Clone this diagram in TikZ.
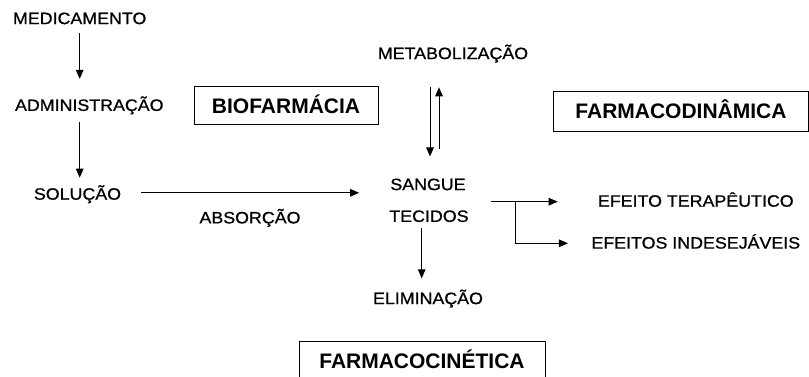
\documentclass[tikz,border=0pt]{standalone}
\usepackage{fontspec}
\setmainfont{Liberation Sans}
\newfontfamily\lab[FakeStretch=1.08,FakeBold=0.8]{Liberation Sans}
\usetikzlibrary{arrows.meta}
\begin{document}
\begin{tikzpicture}[x=1pt,y=-1pt,
  lbl/.style={inner sep=0pt, text height=11.8pt, text depth=0pt, font=\lab\fontsize{16.5}{19}\selectfont},
  titlebox/.style={draw, line width=1pt, inner sep=0pt, text height=15pt, text depth=0pt, font=\fontsize{21}{25}\selectfont\bfseries},
  arr/.style={line width=1pt, -{Triangle[length=9pt,width=7.5pt]}},
  ]
\useasboundingbox (0,0) rectangle (809,377);
% labels
\node[lbl] (med) at (79.7,18.2) {MEDICAMENTO};
\node[lbl] (adm) at (89.3,105) {ADMINISTRAÇÃO};
\node[lbl] (sol) at (77.5,193.8) {SOLUÇÃO};
\node[lbl] (abs) at (250,217.5) {ABSORÇÃO};
\node[lbl] (met) at (453,53.2) {METABOLIZAÇÃO};
\node[lbl] (san) at (428,184.2) {SANGUE};
\node[lbl] (tec) at (429,216) {TECIDOS};
\node[lbl] (eli) at (428,298.2) {ELIMINAÇÃO};
\node[lbl] (eft) at (695.8,200.8) {EFEITO TERAPÊUTICO};
\node[lbl] (efi) at (695.8,242.7) {EFEITOS INDESEJÁVEIS};
% boxes
\node[titlebox, minimum width=184pt, minimum height=38pt] (bio) at (286,106) {BIOFARMÁCIA};
\node[titlebox, minimum width=255pt, minimum height=40pt] (fd) at (681,111.5) {FARMACODINÂMICA};
\node[titlebox, minimum width=246pt, minimum height=40pt] (fc) at (422,361) {FARMACOCINÉTICA};
\coordinate (fork) at (515.7,201.7);
% connectors
\draw[arr] ([yshift=-9pt]med.south) -- ([yshift=20pt]med.south |- adm.north);
\draw[arr] ([yshift=-11pt]med.south |- adm.south) -- ([yshift=10pt]med.south |- sol.north);
\draw[arr] ([xshift=20pt,yshift=1pt]sol.east) -- ([yshift=1pt,xshift=-31pt]sol.east -| san.west);
\draw[arr] ([xshift=2pt,yshift=-28pt]san.north |- met.south) -- ([xshift=2pt,yshift=21.6pt]san.north);
\draw[arr] ([xshift=11pt,yshift=29pt]san.north) -- ([xshift=11pt,yshift=-28pt]san.north |- met.south);
\draw[arr] ([xshift=22pt]tec.east |- fork) -- ([xshift=-40pt]eft.west |- fork);
\draw[arr] (fork) |- ([xshift=-23.3pt,yshift=-0.6pt]efi.west);
\draw[arr] ([xshift=-7.3pt,yshift=-6.3pt]tec.south) -- ([xshift=-7.3pt,yshift=13.7pt]tec.south |- eli.north);
\end{tikzpicture}
\end{document}
